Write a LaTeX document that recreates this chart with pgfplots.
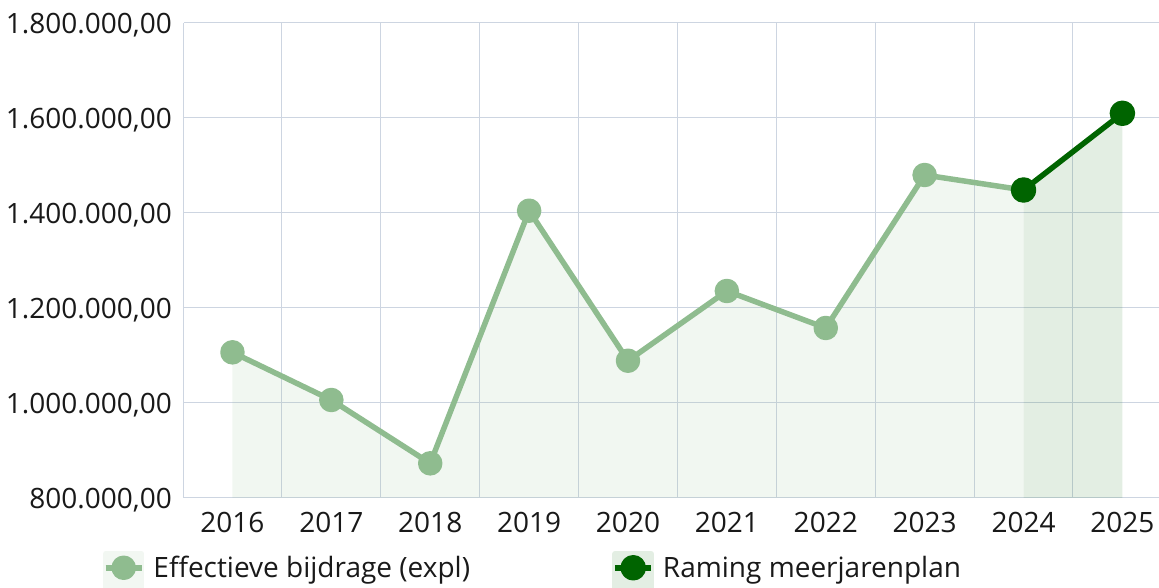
\documentclass[border=0pt]{standalone}
\usepackage{fontspec}
\setmainfont{Open Sans}
\usepackage{pgfplots}
\pgfplotsset{compat=1.18}
\definecolor{gridc}{RGB}{205,213,225}
\definecolor{lgreen}{RGB}{143,188,143}
\definecolor{dgreen}{RGB}{0,100,0}
\definecolor{lbg}{RGB}{242,247,242}
\definecolor{dbg}{RGB}{227,238,227}
\definecolor{txt}{RGB}{25,25,25}
\pgfplotsset{
  limgA/.style={legend image code/.code={\fill[lbg] (0pt,-20pt) rectangle (36pt,14pt);
    \draw[mark repeat=2, mark phase=2, ##1] plot coordinates {(0pt,0pt) (18pt,0pt) (36pt,0pt)};}},
  limgB/.style={legend image code/.code={\fill[dbg] (0pt,-20pt) rectangle (36pt,14pt);
    \draw[mark repeat=2, mark phase=2, ##1] plot coordinates {(0pt,0pt) (18pt,0pt) (36pt,0pt)};}},
}
\begin{document}
\begin{tikzpicture}
\begin{axis}[
  at={(0,0)}, anchor=south west,
  scale only axis, width=975pt, height=475pt,
  xmin=-0.49, xmax=9.37, ymin=800000, ymax=1800000,
  axis line style={draw=none},
  xtick={0,...,9},
  xticklabels={2016,2017,2018,2019,2020,2021,2022,2023,2024,2025},
  minor xtick={-0.49,0.5,1.5,2.5,3.5,4.5,5.5,6.5,7.5,8.5},
  ytick={800000,1000000,1200000,1400000,1600000,1800000},
  yticklabels={{800.000,00},{1.000.000,00},{1.200.000,00},{1.400.000,00},{1.600.000,00},{1.800.000,00}},
  scaled y ticks=false,
  major tick length=0pt, minor tick length=0pt,
  ymajorgrids, xminorgrids, xmajorgrids=false,
  grid style={draw=gridc, line width=1pt},
  minor grid style={draw=gridc, line width=1pt},
  /pgf/number format/assume math mode=true,
  tick label style={font=\fontsize{28}{32}\selectfont, text=txt},
  x tick label style={inner sep=0pt, anchor=north, yshift=-14pt},
  y tick label style={inner sep=0pt, anchor=east, xshift=-12pt, text depth=0pt},
  legend columns=2,
  legend style={draw=none, fill=none, inner sep=0pt, outer sep=0pt,
    at={(-0.0831,-0.1116)}, anchor=north west,
    font=\fontsize{28}{32}\selectfont, text=txt,
    nodes={inner sep=0pt},
    /tikz/every odd column/.append style={column sep=9pt},
    /tikz/every even column/.append style={column sep=0pt}},
]
\addplot[fill=lgreen, fill opacity=0.12, draw=none, forget plot] coordinates {
(0,1106700) (1,1006300) (2,873000) (3,1404800) (4,1089000) (5,1235800) (6,1157900) (7,1480000) (8,1448400)} \closedcycle;
\addplot[fill=dgreen, fill opacity=0.11, draw=none, forget plot] coordinates {
(8,1448400) (9,1609900)} \closedcycle;
\addplot[color=lgreen, line width=5.5pt, line join=round, mark=*, mark size=9.5pt, mark options={fill=lgreen, draw=none}, limgA]
 coordinates {
(0,1106700) (1,1006300) (2,873000) (3,1404800) (4,1089000) (5,1235800) (6,1157900) (7,1480000) (8,1448400)};
\addlegendentry{\makebox[459pt][l]{Effectieve bijdrage (expl)}}
\addplot[color=dgreen, line width=5.5pt, line join=round, mark=*, mark size=10pt, mark options={fill=dgreen, draw=none}, limgB]
 coordinates {(8,1448400) (9,1609900)};
\addlegendentry{Raming meerjarenplan}
\end{axis}
\pgfresetboundingbox
\path[use as bounding box] (-184pt,-90pt) rectangle (975pt,498pt);
\end{tikzpicture}
\end{document}
